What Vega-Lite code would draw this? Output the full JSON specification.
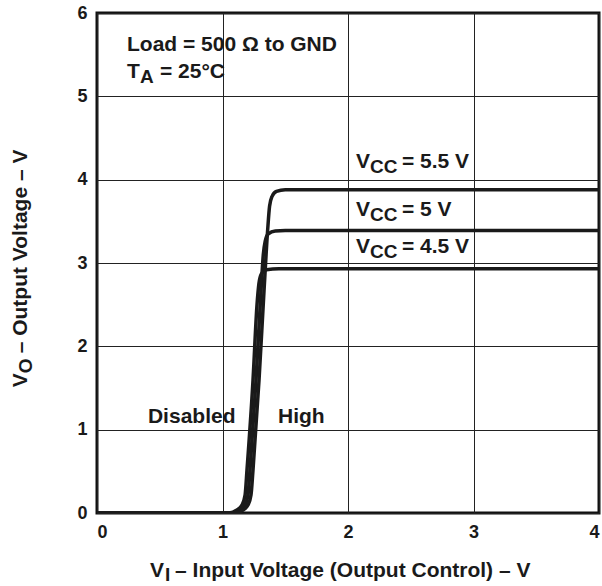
{
  "$schema": "https://vega.github.io/schema/vega-lite/v6.json",
  "width": 502,
  "height": 500,
  "autosize": {"type": "none"},
  "padding": {"left": 97, "top": 13, "right": 3, "bottom": 73},
  "background": "white",
  "config": {
    "view": {"stroke": "#111", "strokeWidth": 3},
    "font": "Liberation Sans",
    "axis": {
      "labelFont": "Liberation Sans",
      "labelFontWeight": "bold",
      "labelFontSize": 18,
      "labelColor": "#1a1a1a",
      "ticks": false,
      "domain": false,
      "grid": true,
      "gridColor": "#222",
      "gridWidth": 1,
      "gridOpacity": 1,
      "labelPadding": 10,
      "title": null
    }
  },
  "datasets": {
    "curves": [
      {"vcc": "4.5", "vi": 0, "vo": 0},
      {"vcc": "4.5", "vi": 1.05, "vo": 0},
      {"vcc": "4.5", "vi": 1.115, "vo": 0.036},
      {"vcc": "4.5", "vi": 1.155, "vo": 0.096},
      {"vcc": "4.5", "vi": 1.18, "vo": 0.216},
      {"vcc": "4.5", "vi": 1.195, "vo": 0.515},
      {"vcc": "4.5", "vi": 1.243, "vo": 1.593},
      {"vcc": "4.5", "vi": 1.275, "vo": 2.5},
      {"vcc": "4.5", "vi": 1.29, "vo": 2.75},
      {"vcc": "4.5", "vi": 1.31, "vo": 2.87},
      {"vcc": "4.5", "vi": 1.35, "vo": 2.92},
      {"vcc": "4.5", "vi": 1.45, "vo": 2.93},
      {"vcc": "4.5", "vi": 4, "vo": 2.93},
      {"vcc": "5", "vi": 0, "vo": 0},
      {"vcc": "5", "vi": 1.075, "vo": 0},
      {"vcc": "5", "vi": 1.139, "vo": 0.036},
      {"vcc": "5", "vi": 1.179, "vo": 0.096},
      {"vcc": "5", "vi": 1.203, "vo": 0.216},
      {"vcc": "5", "vi": 1.219, "vo": 0.515},
      {"vcc": "5", "vi": 1.267, "vo": 1.593},
      {"vcc": "5", "vi": 1.307, "vo": 2.671},
      {"vcc": "5", "vi": 1.325, "vo": 3.1},
      {"vcc": "5", "vi": 1.34, "vo": 3.26},
      {"vcc": "5", "vi": 1.365, "vo": 3.35},
      {"vcc": "5", "vi": 1.42, "vo": 3.385},
      {"vcc": "5", "vi": 1.5, "vo": 3.39},
      {"vcc": "5", "vi": 4, "vo": 3.39},
      {"vcc": "5.5", "vi": 0, "vo": 0},
      {"vcc": "5.5", "vi": 1.1, "vo": 0},
      {"vcc": "5.5", "vi": 1.163, "vo": 0.036},
      {"vcc": "5.5", "vi": 1.203, "vo": 0.096},
      {"vcc": "5.5", "vi": 1.227, "vo": 0.216},
      {"vcc": "5.5", "vi": 1.243, "vo": 0.515},
      {"vcc": "5.5", "vi": 1.291, "vo": 1.593},
      {"vcc": "5.5", "vi": 1.331, "vo": 2.671},
      {"vcc": "5.5", "vi": 1.36, "vo": 3.4},
      {"vcc": "5.5", "vi": 1.375, "vo": 3.68},
      {"vcc": "5.5", "vi": 1.395, "vo": 3.8},
      {"vcc": "5.5", "vi": 1.43, "vo": 3.86},
      {"vcc": "5.5", "vi": 1.5, "vo": 3.88},
      {"vcc": "5.5", "vi": 4, "vo": 3.88}
    ],
    "mainText": [
      {"x": 0.239, "y": 5.545, "t": "Load = 500 Ω  to GND"},
      {"x": 0.239, "y": 5.222, "t": "T"},
      {"x": 0.502, "y": 5.222, "t": "= 25°C"},
      {"x": 2.064, "y": 4.144, "t": "V"},
      {"x": 2.43, "y": 4.144, "t": "= 5.5 V"},
      {"x": 2.064, "y": 3.569, "t": "V"},
      {"x": 2.43, "y": 3.569, "t": "= 5 V"},
      {"x": 2.064, "y": 3.126, "t": "V"},
      {"x": 2.43, "y": 3.126, "t": "= 4.5 V"},
      {"x": 0.406, "y": 1.078, "t": "Disabled"},
      {"x": 1.442, "y": 1.078, "t": "High"},
      {"x": 0.422, "y": -0.766, "t": "V"},
      {"x": 0.622, "y": -0.766, "t": "– Input Voltage (Output Control) – V"}
    ],
    "subText": [
      {"x": 0.343, "y": 5.162, "t": "A"},
      {"x": 2.175, "y": 4.084, "t": "CC"},
      {"x": 2.175, "y": 3.509, "t": "CC"},
      {"x": 2.175, "y": 3.066, "t": "CC"},
      {"x": 0.542, "y": -0.814, "t": "I"}
    ],
    "rotMain": [
      {"x": -0.558, "y": 1.509, "t": "V"},
      {"x": -0.558, "y": 1.916, "t": "– Output Voltage – V"}
    ],
    "rotSub": [
      {"x": -0.518, "y": 1.677, "t": "O"}
    ]
  },
  "layer": [
    {
      "data": {"name": "curves"},
      "mark": {"type": "line", "interpolate": "monotone", "strokeWidth": 3.5, "color": "#1a1a1a", "clip": true},
      "encoding": {
        "x": {"field": "vi", "type": "quantitative", "scale": {"domain": [0, 4], "nice": false}, "axis": {"values": [0, 1, 2, 3, 4], "format": "d"}},
        "y": {"field": "vo", "type": "quantitative", "scale": {"domain": [0, 6], "nice": false}, "axis": {"values": [0, 1, 2, 3, 4, 5, 6], "format": "d"}},
        "detail": {"field": "vcc", "type": "nominal"}
      }
    },
    {
      "data": {"name": "mainText"},
      "mark": {"type": "text", "align": "left", "baseline": "alphabetic", "font": "Liberation Sans", "fontWeight": "bold", "fontSize": 21, "color": "#1a1a1a"},
      "encoding": {
        "x": {"field": "x", "type": "quantitative"},
        "y": {"field": "y", "type": "quantitative"},
        "text": {"field": "t"}
      }
    },
    {
      "data": {"name": "subText"},
      "mark": {"type": "text", "align": "left", "baseline": "alphabetic", "font": "Liberation Sans", "fontWeight": "bold", "fontSize": 19, "color": "#1a1a1a"},
      "encoding": {
        "x": {"field": "x", "type": "quantitative"},
        "y": {"field": "y", "type": "quantitative"},
        "text": {"field": "t"}
      }
    },
    {
      "data": {"name": "rotMain"},
      "mark": {"type": "text", "align": "left", "baseline": "alphabetic", "angle": 270, "font": "Liberation Sans", "fontWeight": "bold", "fontSize": 21, "color": "#1a1a1a"},
      "encoding": {
        "x": {"field": "x", "type": "quantitative"},
        "y": {"field": "y", "type": "quantitative"},
        "text": {"field": "t"}
      }
    },
    {
      "data": {"name": "rotSub"},
      "mark": {"type": "text", "align": "left", "baseline": "alphabetic", "angle": 270, "font": "Liberation Sans", "fontWeight": "bold", "fontSize": 19, "color": "#1a1a1a"},
      "encoding": {
        "x": {"field": "x", "type": "quantitative"},
        "y": {"field": "y", "type": "quantitative"},
        "text": {"field": "t"}
      }
    }
  ]
}
